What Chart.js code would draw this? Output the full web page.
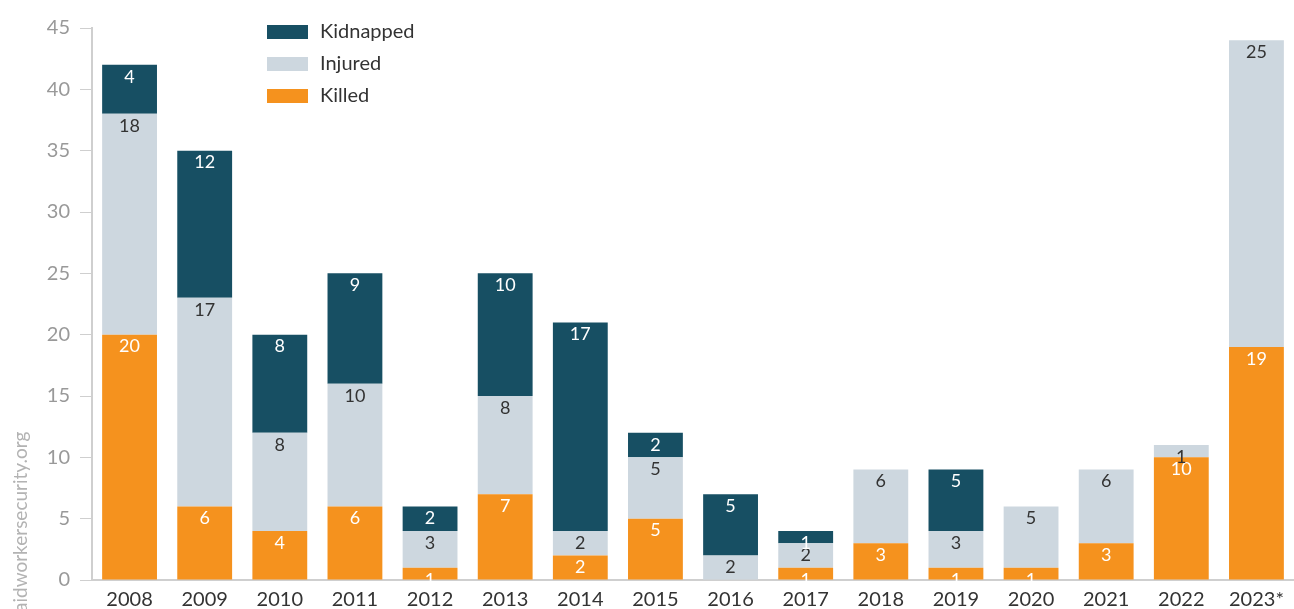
<!DOCTYPE html>
<html>
<head>
<meta charset="utf-8">
<script src="https://cdn.jsdelivr.net/npm/chart.js@4/dist/chart.umd.min.js"></script>
<style>
  html, body { margin: 0; padding: 0; background: #fff; }
  #wrap { width: 1294px; height: 609px; position: relative; }
</style>
</head>
<body>
<div id="wrap"><canvas id="myChart"></canvas></div>
<script>
const years = ["2008", "2009", "2010", "2011", "2012", "2013", "2014", "2015",
  "2016", "2017", "2018", "2019", "2020", "2021", "2022", "2023*"];
const killed    = [20, 6, 4, 6, 1, 7, 2, 5, 0, 1, 3, 1, 1, 3, 10, 19];
const injured   = [18, 17, 8, 10, 3, 8, 2, 5, 2, 2, 6, 3, 5, 6, 1, 25];
const kidnapped = [4, 12, 8, 9, 2, 10, 17, 2, 5, 1, 0, 5, 0, 0, 0, 0];
const yTicks = [0, 5, 10, 15, 20, 25, 30, 35, 40, 45];

const FONT = "Lato, 'Open Sans', sans-serif";

// numbers drawn near the top of each segment
const segLabels = {
  id: "segLabels",
  afterDatasetsDraw(chart) {
    const ctx = chart.ctx;
    ctx.save();
    ctx.font = "18px " + FONT;
    ctx.textAlign = "center";
    ctx.textBaseline = "middle";
    chart.data.datasets.forEach((ds, i) => {
      const meta = chart.getDatasetMeta(i);
      meta.data.forEach((bar, j) => {
        const v = ds.data[j];
        if (!v) return;
        ctx.fillStyle = ds.labelColor;
        ctx.fillText(String(v), bar.x, bar.y + 12);
      });
    });
    ctx.restore();
  }
};

// legend box in the upper left + site credit
const extras = {
  id: "extras",
  afterDraw(chart) {
    const ctx = chart.ctx;
    ctx.save();
    const order = [2, 1, 0];
    ctx.font = "20px " + FONT;
    ctx.textBaseline = "middle";
    ctx.textAlign = "left";
    order.forEach((di, k) => {
      const ds = chart.data.datasets[di];
      const y = 32 + k * 32;
      ctx.fillStyle = ds.backgroundColor;
      ctx.fillRect(267, y - 7, 41, 14);
      ctx.fillStyle = "#333";
      ctx.fillText(ds.label, 320, y);
    });

    ctx.translate(21, 612);
    ctx.rotate(-Math.PI / 2);
    ctx.font = "19px " + FONT;
    ctx.fillStyle = "#b3b3b3";
    ctx.fillText("aidworkersecurity.org", 0, 0);
    ctx.restore();
  }
};

const data = {
  labels: years,
  datasets: [
    { label: "Killed", data: killed, backgroundColor: "#f5921e", labelColor: "#fff" },
    { label: "Injured", data: injured, backgroundColor: "#cdd7df", labelColor: "#333" },
    { label: "Kidnapped", data: kidnapped, backgroundColor: "#174f63", labelColor: "#fff" },
  ],
};

const config = {
  type: "bar",
  data,
  options: {
    responsive: true,
    maintainAspectRatio: false,
    animation: false,
    datasets: { bar: { barPercentage: 0.73, categoryPercentage: 1 } },
    layout: { padding: { top: 28, right: 0, bottom: 0, left: 0 } },
    plugins: { legend: { display: false }, tooltip: { enabled: false } },
    scales: {
      x: {
        stacked: true,
        afterFit(scale) { scale.height = 29; },
        grid: { display: false },
        border: { color: "#cfcfcf", width: 2 },
        ticks: { color: "#333", font: { family: FONT, size: 20 }, padding: 0, maxRotation: 0 },
      },
      y: {
        stacked: true,
        min: 0,
        max: 45,
        afterFit(scale) { scale.width = 92; },
        afterBuildTicks(scale) { scale.ticks = yTicks.map(v => ({ value: v })); },
        grid: { drawOnChartArea: false, drawTicks: true, tickLength: 12, tickColor: "#cfcfcf" },
        border: { color: "#cfcfcf", width: 2 },
        ticks: { color: "#999", font: { family: FONT, size: 20 }, padding: 10 },
      },
    },
  },
  plugins: [segLabels, extras],
};

var myChart = new Chart(document.getElementById("myChart"), config);
</script>
</body>
</html>
